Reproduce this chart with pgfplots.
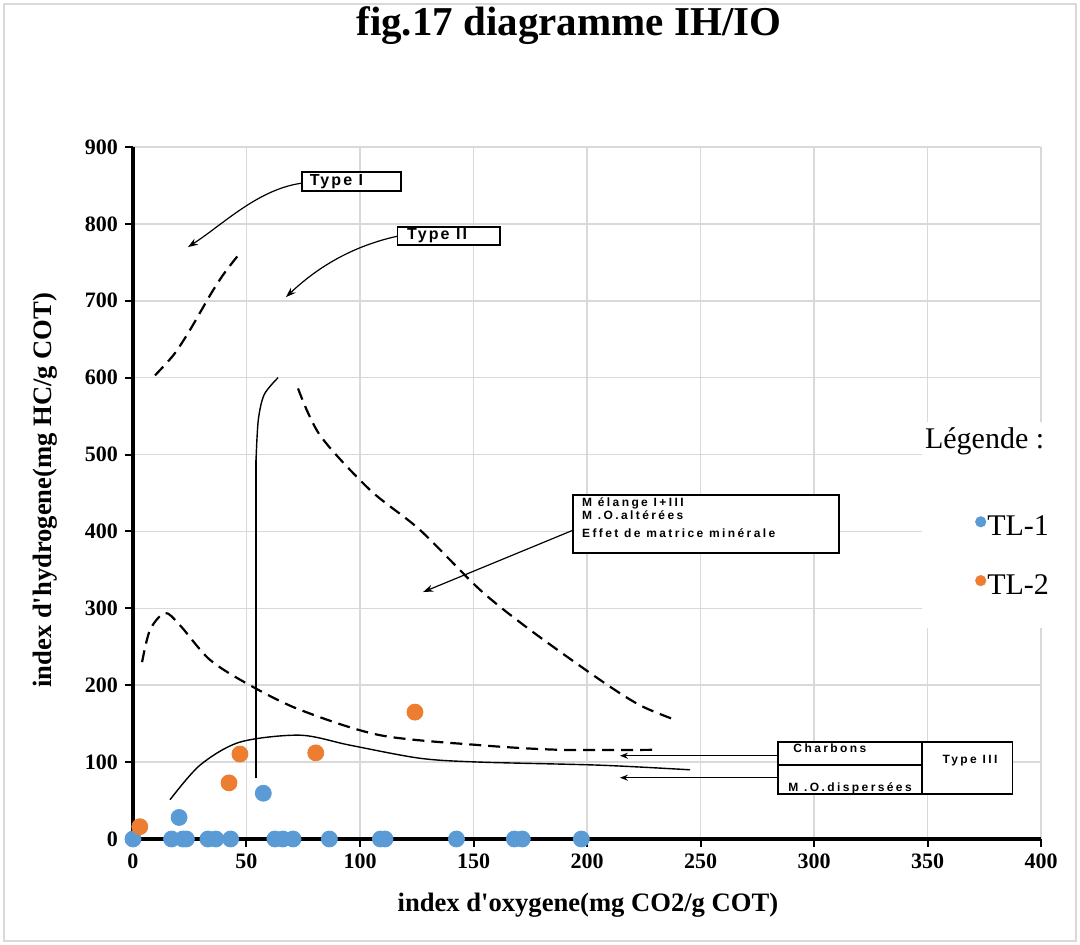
\documentclass[border=0pt]{standalone}
\usepackage{fontspec}
\setmainfont{Liberation Serif}
\newfontfamily\boxfontA[LetterSpace=13]{Liberation Sans}
\newfontfamily\boxfontB[LetterSpace=20]{Liberation Sans}
\usepackage{pgfplots}
\pgfplotsset{compat=1.18}
\usetikzlibrary{arrows.meta}
\definecolor{tlblue}{RGB}{91,155,213}
\definecolor{tlorange}{RGB}{237,125,49}
\definecolor{gridgray}{RGB}{217,217,217}
\begin{document}
\begin{tikzpicture}
\path[use as bounding box] (-66.5pt,-53pt) rectangle (473.5pt,419.5pt);
\draw[gridgray, line width=0.75pt] (-64.5pt,-51pt) rectangle (471.5pt,417.5pt);
\begin{axis}[
  at={(0,0)}, anchor=south west, scale only axis,
  width=454pt, height=346pt,
  xmin=0, xmax=400, ymin=0, ymax=900,
  xtick={0,50,...,400}, ytick={0,100,...,900},
  axis x line*=bottom, axis y line*=left,
  axis line style={line width=2pt,-},
  grid=major, grid style={gridgray, line width=0.8pt},
  tick align=outside, major tick length=4pt,
  tick style={black, line width=1pt},
  tick label style={font=\bfseries\fontsize{11}{13}\selectfont},
  /pgf/number format/assume math mode=true,
  clip=false,
  xlabel={index d\textquotesingle oxygene(mg CO2/g COT)},
  ylabel={index d\textquotesingle hydrogene(mg HC/g COT)},
  xlabel style={at={(axis description cs:0.501,-0.095)}, anchor=center, font=\bfseries\fontsize{13.3}{15}\selectfont},
  ylabel style={at={(axis description cs:-0.097,0.504)}, anchor=center, font=\bfseries\fontsize{13.3}{15}\selectfont},
  title={fig.17 diagramme IH/IO},
  title style={at={(axis description cs:0.48,1.1575)}, anchor=center, font=\bfseries\fontsize{20.5}{24}\selectfont},
  legend style={at={(axis description cs:0.927,0.474)}, anchor=north west, draw=none, fill=none,
    font=\fontsize{15}{17}\selectfont, row sep=14pt, inner sep=0pt,
    /tikz/every odd column/.append style={column sep=-1.5pt}},
  legend cell align=left,
  legend image code/.code={\fill (0.3em,0.25em) circle (2.8pt);},
]
\addplot[only marks, mark=*, mark size=4pt, color=tlblue, draw=none] coordinates {
(0,0) (17,0) (20.3,28) (22,0) (23.5,0) (33,0) (36.5,0) (43,0) (57.4,59.5)
(62.5,0) (66,0) (70.5,0) (86.5,0) (109,0) (111,0) (142.5,0) (168,0) (171.5,0) (197.5,0)
};
\addplot[only marks, mark=*, mark size=4pt, color=tlorange, draw=none] coordinates {
(3,16) (42.3,73) (47.1,110.5) (80.5,112) (124.2,165)
};
\legend{TL-1,TL-2}
% curves
\addplot[black, line width=1.1pt, dash pattern=on 6pt off 3.5pt, smooth, forget plot] coordinates {
(9.7,603) (18,630) (25.1,662) (33.9,707) (40,735) (47.1,762)
};
\addplot[black, line width=0.7pt, forget plot] coordinates {
(54.2,79) (54.2,493)
};
\addplot[black, line width=0.7pt, smooth, forget plot] coordinates {
(54.2,493) (55.2,545) (57.8,578) (63.9,600)
};
\addplot[black, line width=1.1pt, dash pattern=on 6pt off 3.5pt, smooth, forget plot] coordinates {
(72.7,586) (82.4,525) (104.4,454) (126.4,402) (152.9,324) (174.9,272) (205.7,207) (223.3,174) (238.8,155)
};
\addplot[black, line width=1.1pt, dash pattern=on 6pt off 3.5pt, smooth, forget plot] coordinates {
(4,230) (7.5,272) (14.1,294) (20.7,278) (33.9,233) (51.5,200) (73.6,168) (108.8,135) (152.9,122) (188.1,116) (229.9,116)
};
\addplot[black, line width=0.7pt, smooth, forget plot] coordinates {
(16.3,51) (29.5,96) (47.1,126) (73.6,135) (95.6,122) (126.4,105) (152.9,100) (205.7,96) (245.4,90)
};
% legend background
\fill[white] (347.6,274) rectangle (409,542);
\node[anchor=west, font=\fontsize{15}{17}\selectfont] at (345.8,517) {Légende :};
% boxes and arrows
\draw[line width=0.9pt, fill=white] (74.6,843) rectangle (118.1,867);
\node[anchor=west, inner sep=0pt, font=\boxfontA\bfseries\fontsize{8}{9}\selectfont] at (77.7,855) {Type I};
\draw[line width=0.9pt, fill=white] (116.5,773) rectangle (161.7,796);
\node[anchor=west, inner sep=0pt, font=\boxfontA\bfseries\fontsize{8}{9}\selectfont] at (120.6,784.8) {Type II};
\draw[line width=0.6pt, -{Stealth[length=5pt,width=3.5pt]}] (74.4,853) .. controls (55,845) and (40,800) .. (24.2,769.8);
\draw[line width=0.6pt, -{Stealth[length=5pt,width=3.5pt]}] (116.5,784) .. controls (95,770) and (80,740) .. (67.4,704.8);
\draw[line width=1pt, fill=white] (194,371.5) rectangle (311.1,447.3);
\node[anchor=west, inner sep=0pt, font=\boxfontB\bfseries\fontsize{6}{7}\selectfont] at (197.7,436.5) {M élange I+III};
\node[anchor=west, inner sep=0pt, font=\boxfontB\bfseries\fontsize{6}{7}\selectfont] at (197.7,421.3) {M .O.altérées};
\node[anchor=west, inner sep=0pt, font=\boxfontB\bfseries\fontsize{6}{7}\selectfont] at (197.7,397.5) {Effet de matrice minérale};
\draw[line width=0.6pt, -{Stealth[length=5pt,width=3.5pt]}] (194,401.8) -- (127.8,321.2);
\draw[line width=0.9pt, fill=white] (284.3,58.1) rectangle (387.4,125.7);
\draw[line width=0.9pt] (347.4,58.1) -- (347.4,125.7);
\draw[line width=0.9pt] (284.3,96.2) -- (347.4,96.2);
\node[inner sep=0pt, font=\boxfontB\bfseries\fontsize{6}{7}\selectfont] at (307,118) {Charbons};
\node[inner sep=0pt, font=\boxfontB\bfseries\fontsize{6}{7}\selectfont] at (315.9,66) {M .O.dispersées};
\node[inner sep=0pt, font=\boxfontB\bfseries\fontsize{6}{7}\selectfont] at (368.7,101.8) {Type III};
\draw[line width=0.6pt, -{Stealth[length=4pt,width=3pt]}] (284.3,108.3) -- (214.5,108.3);
\draw[line width=0.6pt, -{Stealth[length=4pt,width=3pt]}] (284.3,79.7) -- (214.5,79.7);
\end{axis}
\end{tikzpicture}
\end{document}
